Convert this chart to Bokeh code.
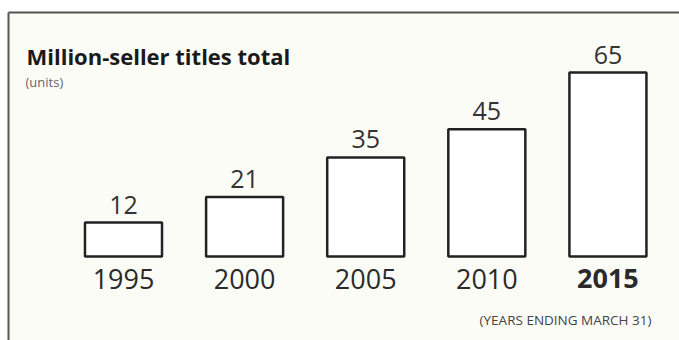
from bokeh.plotting import figure
from bokeh.models import ColumnDataSource, Range1d, LinearAxis, FixedTicker, Label
from bokeh.core.properties import value
from bokeh.embed import file_html
from bokeh.resources import INLINE

years = ["1995", "2000", "2005", "2010", "2015"]
totals = [12, 21, 35, 45, 65]
year_styles = ["normal", "normal", "normal", "normal", "bold"]
title_text = "Million-seller titles total"
unit_text = "(units)"
note_text = "(YEARS ENDING MARCH 31)"

W, H = 679, 340
FONT = "Open Sans"

src = ColumnDataSource(dict(
    x=list(range(len(years))),
    top=totals,
    year=years,
    label=[str(v) for v in totals],
    style=year_styles,
    zero=[0] * len(years),
))

p = figure(width=W, height=H, output_backend="svg", toolbar_location=None,
           x_range=Range1d(-0.9496, 4.591), y_range=Range1d(-29.68, 86.22),
           min_border_left=8, min_border_top=12, min_border_right=0, min_border_bottom=0,
           border_fill_color="white", background_fill_color="#fcfcf7",
           outline_line_color=None)
p.xaxis.visible = False
p.grid.visible = False

p.yaxis.ticker = FixedTicker(ticks=[])
p.yaxis.minor_tick_line_color = None
p.yaxis.major_tick_line_color = None
p.yaxis.axis_line_color = "#555555"
p.yaxis.axis_line_width = 2
top_axis = LinearAxis(ticker=FixedTicker(ticks=[]), minor_tick_line_color=None,
                      major_tick_line_color=None, axis_line_color="#555555", axis_line_width=2)
p.add_layout(top_axis, "above")

p.vbar(x="x", top="top", bottom=0, width=0.636, source=src,
       fill_color="white", line_color="#222222", line_width=2.5)

p.text(x="x", y="top", text="label", source=src, y_offset=-18,
       text_align="center", text_baseline="alphabetic",
       text_font=value(FONT), text_font_size="25px", text_color="#333333")

p.text(x="x", y="zero", text="year", source=src, y_offset=22,
       text_align="center", text_baseline="alphabetic",
       text_font=value(FONT), text_font_size="27px", text_color="#2a2a2a",
       text_font_style="style")

p.add_layout(Label(x=18, y=270, x_units="screen", y_units="screen", text=title_text,
                   text_font=FONT, text_font_size="22px", text_font_style="bold",
                   text_color="#1a1a1a"))
p.add_layout(Label(x=17, y=250, x_units="screen", y_units="screen", text=unit_text,
                   text_font=FONT, text_font_size="13px", text_color="#666666"))
p.add_layout(Label(x=643, y=12, x_units="screen", y_units="screen", text=note_text,
                   text_align="right",
                   text_font=FONT, text_font_size="13.5px", text_color="#444444"))

open("out.html", "w").write(file_html(p, INLINE))
